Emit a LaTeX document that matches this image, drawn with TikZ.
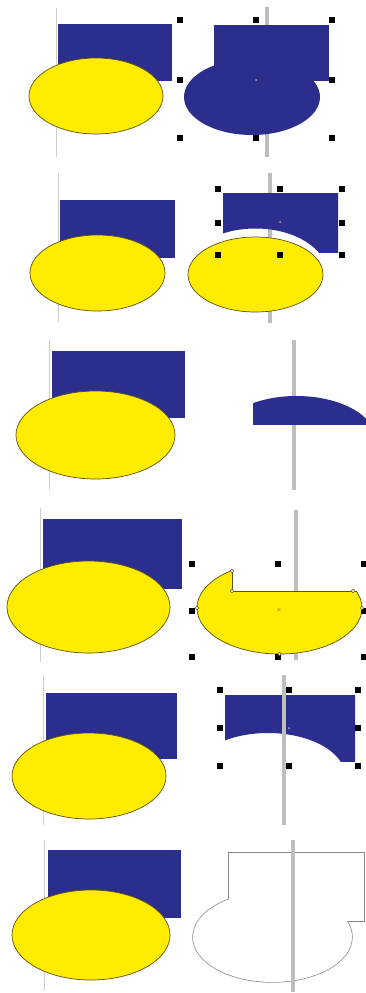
\documentclass[tikz,border=0pt]{standalone}
\definecolor{myblue}{RGB}{43,46,140}
\definecolor{myyellow}{RGB}{255,236,0}
\definecolor{yedge}{RGB}{95,80,20}
\definecolor{thickgray}{RGB}{190,190,190}
\definecolor{thingray}{RGB}{205,205,205}
\definecolor{outgray}{RGB}{135,135,135}
\begin{document}
\begin{tikzpicture}[x=1pt,y=-1pt,
  blu/.style={fill=myblue},
  yel/.style={fill=myyellow,draw=yedge,line width=0.7pt},
  thinln/.style={draw=thingray,line width=0.9pt},
  thickln/.style={draw=thickgray,line width=4.5pt},
  hdl/.style={draw=none,fill=black,minimum size=5.5pt,inner sep=0pt,outer sep=0pt,rectangle},
  npt/.style={draw=yedge,fill=white,circle,minimum size=3.5pt,inner sep=0pt,line width=0.6pt},
  ctr/.style={fill=gray!60,circle,minimum size=2pt,inner sep=0pt}]
\useasboundingbox (0,0) rectangle (366,993);
\fill[white] (0,0) rectangle (366,993);

% ===== Panel 1 =====
\draw[thinln] (56,8) -- (56,157);
\fill[blu] (58,24) rectangle (172,81);
\path[yel] (96,96) ellipse [x radius=67, y radius=38];
\draw[thickln] (267,7) -- (267,157);
\fill[blu] (214,25) rectangle (329,81);
\fill[blu] (252,97) ellipse [x radius=68, y radius=38];
\node[ctr] (c1) at (256,80) {};
\foreach \x/\y [count=\i] in {180/20,256/20,332/20,180/80,332/80,180/138,256/138,332/138}
  \node[hdl] (pa\i) at (\x,\y) {};

% ===== Panel 2 =====
\draw[thinln] (58,173) -- (58,322);
\fill[blu] (60,200) rectangle (175,258);
\path[yel] (97.5,273) ellipse [x radius=67.5, y radius=38];
\draw[thickln] (270,173) -- (270,323);
\begin{scope}
  \clip (223,193) rectangle (338,252);
  \fill[blu,even odd rule] (210,180) rectangle (350,262) (255.5,274.5) ellipse [x radius=72, y radius=46];
\end{scope}
\path[yel] (255.5,274.5) ellipse [x radius=67.5, y radius=37.5];
\node[ctr] (c2) at (280,222) {};
\foreach \x/\y [count=\i] in {218/189,280/189,342/189,218/223,342/223,218/255,280/255,342/255}
  \node[hdl] (pb\i) at (\x,\y) {};

% ===== Panel 3 =====
\draw[thinln] (49,340) -- (49,490);
\fill[blu] (52,351) rectangle (185,418);
\path[yel] (95.5,435) ellipse [x radius=79.5, y radius=44];
\draw[thickln] (294,340) -- (294,490);
\begin{scope}
  \clip (253,350) rectangle (366,424);
  \fill[blu] (296.5,440) ellipse [x radius=79.5, y radius=44];
\end{scope}

% ===== Panel 4 =====
\draw[thinln] (40,508) -- (40,662);
\fill[blu] (43,519) rectangle (182,589);
\path[yel] (88.5,607) ellipse [x radius=81.5, y radius=46];
\draw[thickln] (296,510) -- (296,660);
\begin{scope}
  \clip (150,550) -- (232,550) -- (232,591) -- (370,591) -- (370,665) -- (150,665) -- cycle;
  \path[yel] (279.5,608) ellipse [x radius=82.5, y radius=46];
\end{scope}
\begin{scope}
  \clip (279.5,608) ellipse [x radius=82.9, y radius=46.4];
  \draw[draw=yedge,line width=0.7pt] (232,550) -- (232,591) -- (370,591);
\end{scope}
\foreach \x/\y [count=\i] in {192/564,278/564,364/564,192/611,364/611,192/657,278/657,364/657}
  \node[hdl] (pd\i) at (\x,\y) {};
\foreach \x/\y [count=\i] in {232/571,232/591,353/591,197/608,362/608,279.5/654}
  \node[npt] (nd\i) at (\x,\y) {};
\node[inner sep=0pt,font=\fontsize{6}{6}\selectfont,text=yedge] (c4) at (279,610) {$\times$};

% ===== Panel 5 =====
\draw[thinln] (43,675) -- (43,825);
\fill[blu] (46,693) rectangle (177,759);
\path[yel] (89,776) ellipse [x radius=77, y radius=43];
\begin{scope}
  \clip (225,695) rectangle (355,761);
  \fill[blu,even odd rule] (215,685) rectangle (365,770) (268,776) ellipse [x radius=77, y radius=43];
\end{scope}
\draw[thickln] (284,675) -- (284,825);
\node[ctr] (c5) at (289,728) {};
\foreach \x/\y [count=\i] in {220/690,289/690,358/690,220/728,358/728,220/766,289/766,358/766}
  \node[hdl] (pe\i) at (\x,\y) {};

% ===== Panel 6 =====
\draw[thinln] (44,840) -- (44,990);
\fill[blu] (48,850) rectangle (181,918);
\path[yel] (91,935) ellipse [x radius=79, y radius=45];
\draw[draw=outgray,line width=1.4pt] (229,853) rectangle (364,921);
\draw[draw=outgray,line width=1.4pt] (272.5,937) ellipse [x radius=79.5, y radius=45];
\fill[white] (229,853) rectangle (364,921);
\fill[white] (272.5,937) ellipse [x radius=79.5, y radius=45];
\draw[thickln] (293,840) -- (293,992);
\end{tikzpicture}
\end{document}
